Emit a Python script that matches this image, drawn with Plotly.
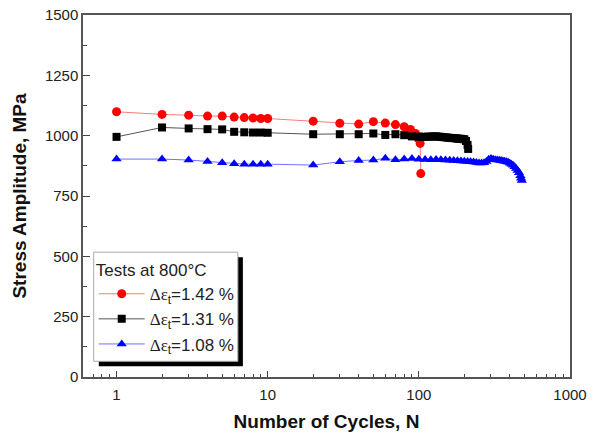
import plotly.graph_objects as go
import math

# ---- data ----
red_n = [1, 2, 3, 4, 5, 6, 7, 8, 9, 10, 20, 30, 40, 50, 60, 70, 80, 88, 95, 99, 102, 103]
red_s = [1099, 1088, 1085, 1081, 1081, 1077, 1075, 1073, 1071, 1071, 1060, 1051, 1048, 1058,
         1052, 1046, 1037, 1026, 1009, 988, 968, 843]

black_n = [1, 2, 3, 4, 5, 6, 7, 8, 9, 10, 20, 30, 40, 50, 60, 70, 80, 90, 100, 105, 110, 115,
           120, 125, 130, 135, 140, 145, 150, 155, 160, 165, 170, 175, 180, 185, 190, 195, 200,
           205, 210, 212]
black_s = [995, 1034, 1030, 1027, 1026, 1016, 1014, 1013, 1013, 1012, 1006, 1006, 1006, 1009,
           1003, 1006, 1002, 997, 996, 995, 995, 996, 996, 997, 997, 996, 995, 994, 993, 992,
           991, 990, 990, 989, 988, 987, 987, 986, 985, 978, 962, 945]

blue_n = [1, 2, 3, 4, 5, 6, 7, 8, 9, 10, 20, 30, 40, 50, 60, 70, 80, 90, 100, 110, 120, 130,
          140, 150, 160, 170, 180, 190, 200, 210, 220, 230, 240, 250, 260, 270, 280, 290, 300,
          310, 320, 330, 340, 350, 360, 370, 380, 390, 400, 410, 420, 430, 440, 450, 460, 470,
          475, 480]
blue_s = [903, 903, 899, 893, 888, 884, 882, 882, 882, 882, 878, 892, 897, 899, 906, 900, 903,
          905, 902, 901, 900, 901, 900, 899, 898, 897, 896, 895, 894, 893, 892, 891, 889, 887,
          887, 888, 893, 902, 905, 902, 900, 899, 898, 897, 895, 894, 892, 890, 886, 882, 877,
          871, 864, 856, 846, 834, 824, 814]

x_tick_vals = [1, 10, 100, 1000]
x_tick_text = ["1", "10", "100", "1000"]
x_minor_vals = [0.6, 0.7, 0.8, 0.9, 2, 3, 4, 5, 6, 7, 8, 9, 20, 30, 40, 50, 60, 70, 80, 90,
                200, 300, 400, 500, 600, 700, 800, 900]
y_tick_vals = [0, 250, 500, 750, 1000, 1250, 1500]

legend_title = "Tests at 800°C"
serif = "Liberation Serif"
names = [
    f"<span style='font-family:{serif}'>Δε</span><sub>t</sub>=1.42 %",
    f"<span style='font-family:{serif}'>Δε</span><sub>t</sub>=1.31 %",
    f"<span style='font-family:{serif}'>Δε</span><sub>t</sub>=1.08 %",
]

FONT = "Liberation Sans, Arial, sans-serif"

fig = go.Figure()
fig.add_trace(go.Scatter(x=red_n, y=red_s, mode="lines+markers", name=names[0],
                         line=dict(color="#ff7a7a", width=1),
                         marker=dict(symbol="circle", size=9, color="#ff0000")))
fig.add_trace(go.Scatter(x=black_n, y=black_s, mode="lines+markers", name=names[1],
                         line=dict(color="#555555", width=1),
                         marker=dict(symbol="square", size=8, color="#000000")))
fig.add_trace(go.Scatter(x=blue_n, y=blue_s, mode="lines+markers", name=names[2],
                         line=dict(color="#6f6fff", width=1),
                         marker=dict(symbol="triangle-up", size=9, color="#0000ff")))

# legend frame with drop shadow
fig.add_shape(type="rect", xref="paper", yref="paper",
              x0=0.0324, x1=0.3283, y0=0.0296, y1=0.331,
              fillcolor="black", line=dict(width=0), layer="above")
fig.add_shape(type="rect", xref="paper", yref="paper",
              x0=0.022, x1=0.318, y0=0.0434, y1=0.3448,
              fillcolor="white", line=dict(color="#aaaaaa", width=1), layer="above")

fig.update_layout(
    width=597, height=435,
    margin=dict(l=83, r=27, t=15, b=58, autoexpand=False),
    paper_bgcolor="white", plot_bgcolor="white",
    font=dict(family=FONT, size=15, color="#222222"),
    showlegend=True,
    legend=dict(x=0.022, y=0.3395, xanchor="left", yanchor="top",
                bgcolor="rgba(0,0,0,0)", borderwidth=0,
                itemwidth=46,
                font=dict(family=FONT, size=17, color="#222222"),
                title=dict(text=legend_title, font=dict(family=FONT, size=17, color="#222222")),
                tracegroupgap=0),
    xaxis=dict(type="log", range=[math.log10(0.6), 3], automargin=False,
               tickvals=x_tick_vals, ticktext=x_tick_text,
               ticks="inside", ticklen=6, tickwidth=1, tickcolor="#444444",
               ticklabelstandoff=3,
               minor=dict(tickvals=x_minor_vals, ticks="inside", ticklen=3, tickcolor="#444444"),
               showline=True, linecolor="#555555", linewidth=1.5, mirror=True,
               showgrid=False, zeroline=False,
               tickfont=dict(family=FONT, size=15, color="#222222"),
               title=dict(text="<b>Number of Cycles, N</b>", standoff=13,
                          font=dict(family=FONT, size=19, color="#111111"))),
    yaxis=dict(range=[0, 1500], tickvals=y_tick_vals, automargin=False,
               ticks="inside", ticklen=7, tickwidth=1, tickcolor="#444444",
               minor=dict(dtick=125, ticks="inside", ticklen=4, tickcolor="#444444"),
               showline=True, linecolor="#555555", linewidth=1.5, mirror=True,
               showgrid=False, zeroline=False,
               tickfont=dict(family=FONT, size=15, color="#222222"),
               title=dict(text="<b>Stress Amplitude, MPa</b>", standoff=13,
                          font=dict(family=FONT, size=19, color="#111111"))),
)

fig.write_html("out.html", config={"displayModeBar": False},
               post_script="document.body.style.margin='0';")
